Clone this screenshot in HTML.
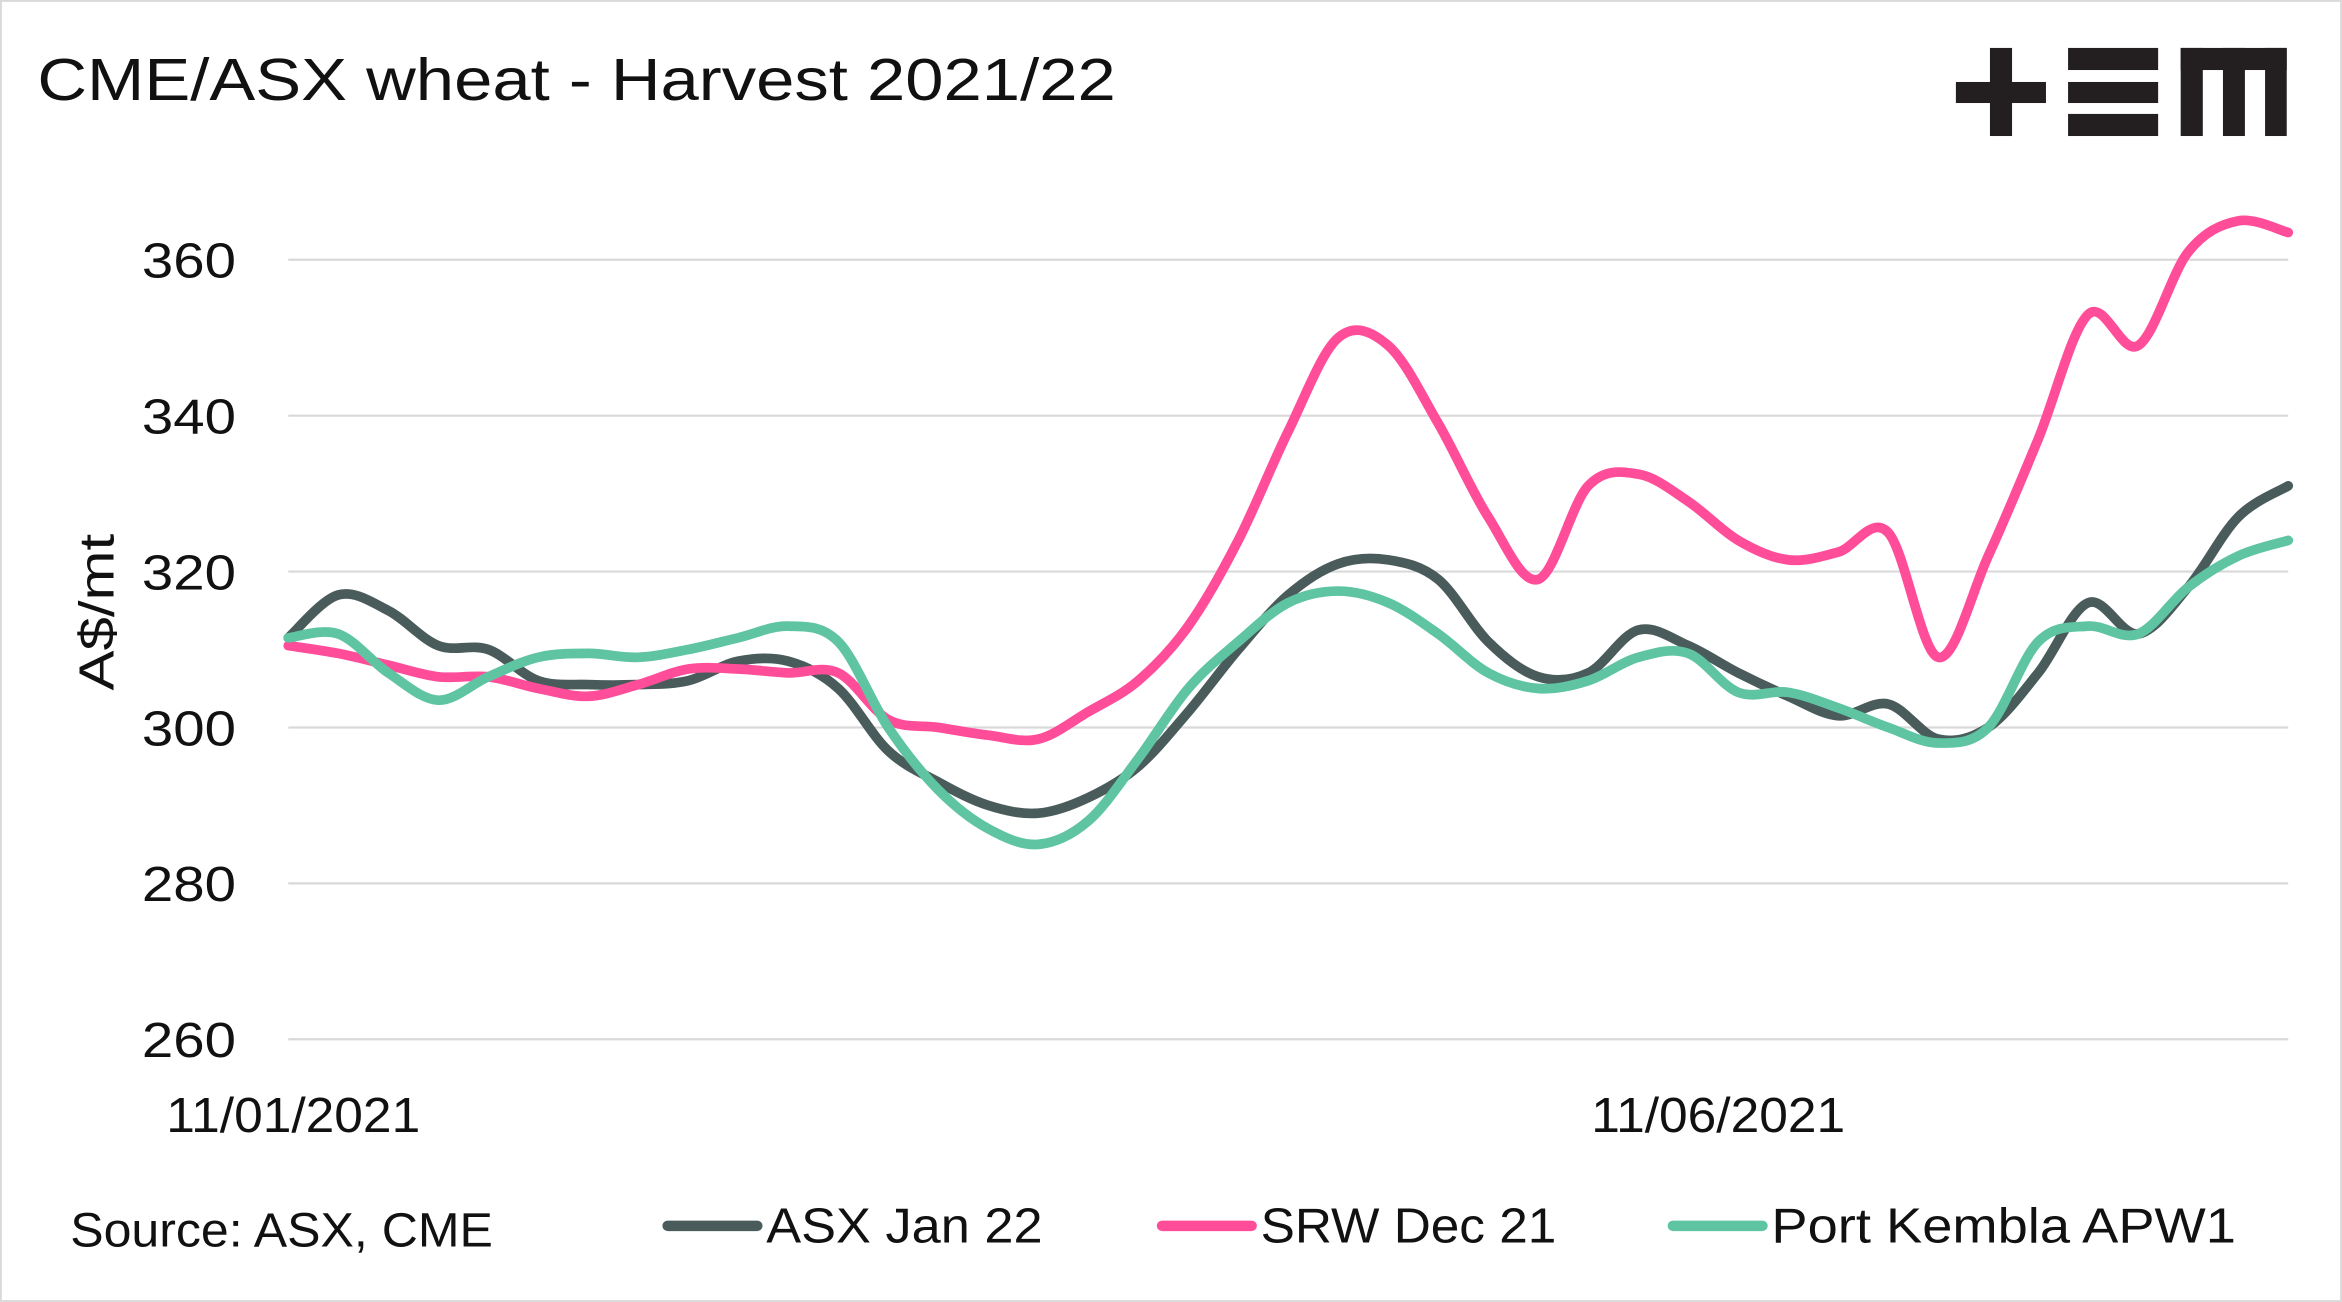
<!DOCTYPE html>
<html><head><meta charset="utf-8"><style>
html,body{margin:0;padding:0;background:#fff;}
svg{display:block;font-family:"Liberation Sans",sans-serif;}
</style></head><body>
<svg id="chart" width="2342" height="1302" viewBox="0 0 1568 872" preserveAspectRatio="none" xmlns="http://www.w3.org/2000/svg">
<rect x="0.5" y="0.5" width="1567" height="871" fill="#fff" stroke="#d9d9d9" stroke-width="1.5"/>
<text x="25" y="67" font-size="40" fill="#111" textLength="722" lengthAdjust="spacingAndGlyphs">CME/ASX wheat - Harvest 2021/22</text>
<g fill="#231f20">
<rect x="1332.3" y="32.1" width="14.8" height="59"/>
<rect x="1309.5" y="54.9" width="60.3" height="14.1"/>
<rect x="1384.6" y="32.1" width="60.3" height="14.8"/>
<rect x="1384.6" y="54.9" width="60.3" height="14.1"/>
<rect x="1384.6" y="76.3" width="60.3" height="14.8"/>
<rect x="1460" y="32.1" width="71" height="14.8"/>
<rect x="1460" y="32.1" width="14.8" height="59"/>
<rect x="1488.3" y="32.1" width="14.7" height="59"/>
<rect x="1516.5" y="32.1" width="14.5" height="59"/>
</g>
<g id="grid"></g>
<g id="yticks"></g>
<g id="xticks"></g>
<text transform="translate(76,410) rotate(-90)" text-anchor="middle" font-size="33" fill="#111" textLength="105" lengthAdjust="spacingAndGlyphs">A$/mt</text>
<g id="series"></g>
<text x="47" y="835" font-size="32" fill="#111" textLength="283" lengthAdjust="spacingAndGlyphs">Source: ASX, CME</text>
<g id="legend"></g>
</svg>
<script>
const categories = Array.from({length:41},(_,i)=>i);
const asx = [311.5,317,315,310.5,310,306,305.5,305.5,306,308.5,308.5,305,297,293,290,289,291,295,302,310,317,321,321.5,319,311,306.5,307,312.5,310.5,307,304,301.5,303,298.5,300,307,316,312,318,327,331];
const srw = [310.5,309.5,308,306.5,306.5,305,304,305.5,307.5,307.5,307,307,301,300,299,298.5,302,306,313,324,338,350,349,339,327,319,331,332.5,329,324,321.5,322.5,325,309,322,337,353,349,361,365,363.5];
const pk = [311.5,312,307,303.5,306.5,309,309.5,309,310,311.5,313,311,300,292,287,285,288,296,305,311,316,317.5,316,312,307,305,306,309,309.5,304.5,304.5,302.5,300,298,300,311,313,312,318,322,324];
const yTicks = [260,280,300,320,340,360];
const xTickLabels = ["11/01/2021","11/06/2021"];
const xTickIdx = [0.1,28.6];
const seriesNames = ["ASX Jan 22","SRW Dec 21","Port Kembla APW1"];
const seriesColors = ["#4a5b5c","#ff4d9a","#5ec4a1"];

const NS="http://www.w3.org/2000/svg";
const X0=193,X1=1532,Y260=696,Y360=174;
const xs=i=>X0+(X1-X0)*i/(categories.length-1);
const ys=v=>Y260+(v-260)*(Y360-Y260)/100;
function mk(t,a,p){const e=document.createElementNS(NS,t);for(const k in a)e.setAttribute(k,a[k]);p.appendChild(e);return e;}
const grid=document.getElementById('grid'),yt=document.getElementById('yticks'),xt=document.getElementById('xticks');
yTicks.forEach(v=>{
 const l=mk('line',{x1:X0,x2:X1,y1:ys(v),y2:ys(v),stroke:'#d9d9d9','stroke-width':1.5},grid);
 
 
 const t=mk('text',{x:158,y:ys(v)+12,'text-anchor':'end','font-size':33,fill:'#111',textLength:63,lengthAdjust:'spacingAndGlyphs'},yt);
 t.textContent=v;
 
 
});
xTickLabels.forEach((s,k)=>{
 const t=mk('text',{x:xs(xTickIdx[k]),y:758,'text-anchor':'middle','font-size':33,fill:'#111',textLength:170,lengthAdjust:'spacingAndGlyphs'},xt);
 t.textContent=s;
 
 
});
function smooth(vals){
 const p=vals.map((v,i)=>[xs(i),ys(v)]);
 let d='M'+p[0][0]+','+p[0][1];
 for(let i=0;i<p.length-1;i++){
  const a=p[i-1]||p[i],b=p[i],c=p[i+1],e=p[i+2]||c;
  d+=' C'+(b[0]+(c[0]-a[0])/6)+','+(b[1]+(c[1]-a[1])/6)+' '+(c[0]-(e[0]-b[0])/6)+','+(c[1]-(e[1]-b[1])/6)+' '+c[0]+','+c[1];
 }
 return d;
}
const sg=document.getElementById('series');
[asx,srw,pk].forEach((vals,k)=>{
 const p=mk('path',{d:smooth(vals),fill:'none',stroke:seriesColors[k],'stroke-width':6.5,'stroke-linejoin':'round','stroke-linecap':'round'},sg);
 
 
});
const lg=document.getElementById('legend');
const lx=[447,778,1120];
const lw=[185,198,311];
seriesNames.forEach((n,k)=>{
 const g=mk('g',{},lg);
 
 
 mk('line',{x1:lx[k],x2:lx[k]+60,y1:821,y2:821,stroke:seriesColors[k],'stroke-width':7,'stroke-linecap':'round'},g);
 const t=mk('text',{x:lx[k]+66,y:832,'font-size':33,fill:'#111',textLength:lw[k],lengthAdjust:'spacingAndGlyphs'},g);
 t.textContent=n;
});
</script>
</body></html>
